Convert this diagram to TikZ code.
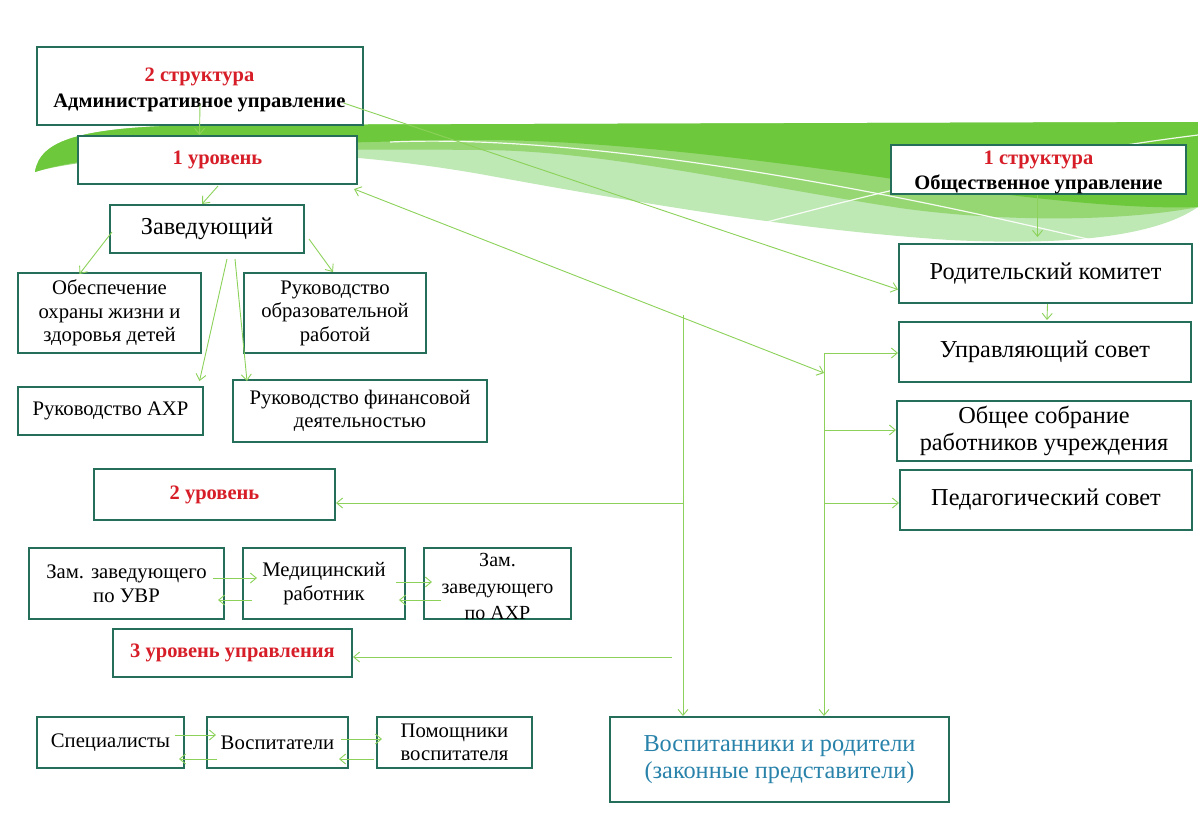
\documentclass[tikz,border=0pt]{standalone}
\usepackage{fontspec}
\setmainfont{Liberation Serif}
\usetikzlibrary{arrows.meta,calc}
\definecolor{boxc}{RGB}{36,110,90}
\definecolor{linec}{RGB}{140,210,90}
\definecolor{redt}{RGB}{215,30,40}
\definecolor{bluet}{RGB}{40,130,170}
\definecolor{gdark}{RGB}{110,200,60}
\definecolor{gmid}{RGB}{150,215,115}
\definecolor{glight}{RGB}{190,232,180}
\newcommand\hdf{\fontsize{20.5}{26}\selectfont\bfseries}
\begin{document}
\begin{tikzpicture}[x=1pt,y=-1pt,
 box/.style={draw=boxc, line width=2pt, fill=white, rectangle, align=center, inner sep=0pt, font=\fontsize{20.7}{23.5}\selectfont},
 bigbox/.style={box, font=\fontsize{24.3}{27}\selectfont},
 txt/.style={align=center, inner sep=0pt},
 arr/.style={draw=linec, line width=0.9pt, -{Straight Barb[length=6pt,width=10pt]}},
 darr/.style={draw=linec, line width=0.9pt, {Straight Barb[length=6pt,width=10pt]}-{Straight Barb[length=6pt,width=10pt]}}]
\useasboundingbox (0,0) rectangle (1198,836);
\fill[white] (0,0) rectangle (1198,836);
% background swoosh
\fill[glight] (35,172) .. controls (40,140) and (80,127) .. (200,125) -- (1198,122) -- (1198,207) .. controls (1150,240) and (1050,245) .. (950,240) .. controls (800,230) and (650,205) .. (480,174) .. controls (400,160) and (300,150) .. (200,152) .. controls (120,155) and (60,160) .. (35,172) -- cycle;
\fill[gmid] (35,172) .. controls (40,140) and (80,127) .. (200,125) -- (1198,122) -- (1198,207) .. controls (1120,222) and (1000,222) .. (900,208) .. controls (750,185) and (600,150) .. (480,150) .. controls (300,148) and (100,152) .. (35,172) -- cycle;
\fill[gdark] (35,172) .. controls (40,140) and (80,127) .. (200,125) -- (1198,122) -- (1198,207) .. controls (1120,210) and (1000,195) .. (900,180) .. controls (750,158) and (600,140) .. (480,140) .. controls (300,142) and (100,150) .. (35,172) -- cycle;
\draw[white, line width=1.2pt, opacity=0.9] (390,142) .. controls (550,135) and (800,170) .. (1100,242);
\draw[white, line width=1.2pt, opacity=0.9] (767,222) .. controls (850,200) and (1000,160) .. (1198,135);
% nodes
\node[box, minimum width=326, minimum height=78] (s2) at (199.5,86) {};
\node[txt, font=\fontsize{20.5}{26}\selectfont\bfseries] (s2t) at (199.5,90) {{\color{redt}2 структура}\\Административное управление};
\node[box, minimum width=279, minimum height=48] (l1) at (217.5,160) {{\hdf\color{redt}1 уровень}};
\node[bigbox, minimum width=194, minimum height=48] (zav) at (207,229) {Заведующий};
\node[box, minimum width=183, minimum height=80] (obes) at (109.5,313) {Обеспечение\\охраны жизни и\\здоровья детей};
\node[box, minimum width=182, minimum height=80] (obr) at (335,313) {Руководство\\образовательной\\работой};
\node[box, minimum width=185, minimum height=48] (ahr) at (110.5,411) {Руководство АХР};
\node[box, minimum width=254, minimum height=62] (fin) at (360,411) {Руководство финансовой\\деятельностью};
\node[box, minimum width=241, minimum height=51] (l2) at (214.5,494.5) {{\hdf\color{redt}2 уровень}};
\node[box, minimum width=195, minimum height=71] (uvr) at (126.5,583.5) {Зам. заведующего\\по УВР};
\node[box, minimum width=162, minimum height=71] (med) at (324,583.5) {Медицинский\\работник};
\node[box, minimum width=147, minimum height=71] (zahr) at (497.5,583.5) {};
\node[txt, font=\fontsize{20}{26.5}\selectfont] (zahrt) at (497.5,586.5) {Зам.\\заведующего\\по АХР};
\node[box, minimum width=239, minimum height=48] (l3) at (232.5,653) {{\hdf\color{redt}3 уровень управления}};
\node[box, minimum width=147, minimum height=51] (spec) at (110.5,742.5) {Специалисты};
\node[box, minimum width=141, minimum height=51] (vosp) at (277.5,742.5) {Воспитатели};
\node[box, minimum width=155, minimum height=51] (pom) at (454.5,742.5) {Помощники\\воспитателя};
\node[box, minimum width=295, minimum height=49] (s1) at (1038.5,169.5) {};
\node[txt, font=\fontsize{20.5}{25}\selectfont\bfseries] (s1t) at (1038.5,172.5) {{\color{redt}1 структура}\\Общественное управление};
\node[bigbox, minimum width=293, minimum height=59] (rod) at (1045.5,273.5) {Родительский комитет};
\node[bigbox, minimum width=292, minimum height=60] (upr) at (1045,352) {Управляющий совет};
\node[bigbox, minimum width=294, minimum height=60] (obsh) at (1044,431) {Общее собрание\\работников учреждения};
\node[bigbox, minimum width=292, minimum height=60] (ped) at (1046,500) {Педагогический совет};
\node[bigbox, minimum width=339, minimum height=85, text=bluet] (vos) at (779.5,759.5) {Воспитанники и родители\\(законные представители)};
% connectors
\draw[arr] ($(s2.south)+(0.5,-22)$) -- (s2.south |- l1.north);
\draw[arr] ($(s2.east)+(-20,17)$) -- ($(rod.west)+(0,16)$);
\coordinate (rj) at (824,373);
\coordinate (lt) at (683,315);
\coordinate (rt) at (824,353);
\draw[darr] ($(l1.south east)+(-4,4)$) -- (rj);
\draw[arr] ($(l1.south)+(0.5,1)$) -- ($(zav.north)+(-5,0)$);
\draw[arr] ($(zav.west)+(3,3)$) -- ($(obes.north)+(-30,2)$);
\draw[arr] ($(zav.east)+(4,10)$) -- ($(obr.north)+(-2,0)$);
\draw[arr] ($(zav.south)+(20,5)$) -- ($(ahr.north)+(89,-5)$);
\draw[arr] ($(zav.south)+(28,5)$) -- ($(fin.north)+(-113,2)$);
\draw[arr] (lt) -- (lt |- vos.north);
\draw[arr] (lt |- 0,503) -- (l2.east |- 0,503);
\draw[arr] (672,657) -- (l3.east |- 0,657);
\draw[arr] (rt) -- (rt |- vos.north);
\draw[arr] (rt) -- (upr.west |- rt);
\draw[arr] (824,430) -- (obsh.west |- 0,430);
\draw[arr] (824,503) -- (ped.west |- 0,503);
\draw[arr] ($(s1.south)+(-1,0)$) -- ($(rod.north)+(-8,-6)$);
\draw[arr] ($(rod.south)+(2,0)$) -- ($(upr.north)+(2,-1)$);
\draw[arr] ($(uvr.east |- 0,578)+(-12,0)$) -- ($(med.west |- 0,578)+(15,0)$);
\draw[arr] ($(med.west |- 0,600)+(10,0)$) -- ($(uvr.east |- 0,600)+(-7,0)$);
\draw[arr] ($(med.east |- 0,582)+(-10,0)$) -- ($(zahr.west |- 0,582)+(9,0)$);
\draw[arr] ($(zahr.west |- 0,600)+(18,0)$) -- ($(med.east |- 0,600)+(-7,0)$);
\draw[arr] ($(spec.east |- 0,735)+(-10,0)$) -- ($(vosp.west |- 0,735)+(10,0)$);
\draw[arr] ($(vosp.west |- 0,759)+(11,0)$) -- ($(spec.east |- 0,759)+(-6,0)$);
\draw[arr] ($(vosp.east |- 0,739)+(-8,0)$) -- ($(pom.west |- 0,739)+(6,0)$);
\draw[arr] ($(pom.west |- 0,759)+(-2,0)$) -- ($(vosp.east |- 0,759)+(-10,0)$);
\end{tikzpicture}
\end{document}
